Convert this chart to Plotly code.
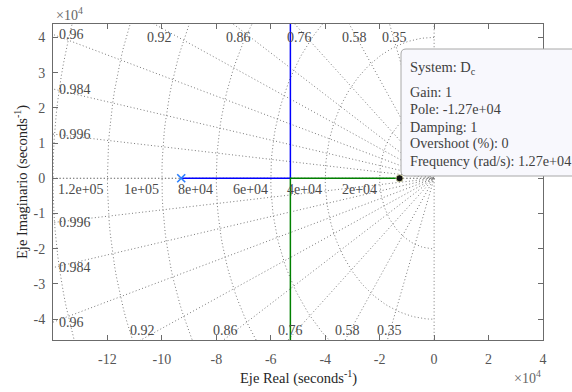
import numpy as np
import plotly.graph_objects as go

# ---------------- data ----------------
blue_re = [-9.29e4, -5.28e4, -5.28e4]
blue_im = [0.0, 0.0, 6.0e4]
green_re = [-1.27e4, -5.28e4, -5.28e4]
green_im = [0.0, 0.0, -6.0e4]
blue_pole_re = [-9.29e4]
blue_pole_im = [0.0]
tip_re = -1.27e4
tip_im = 0.0

zeta_vals = [0.35, 0.58, 0.76, 0.86, 0.92, 0.96, 0.984, 0.996]
zeta_labels = ["0.35", "0.58", "0.76", "0.86", "0.92", "0.96", "0.984", "0.996"]
wn_vals = [2e4, 4e4, 6e4, 8e4, 1e5, 1.2e5, 1.4e5]
wn_labels = ["2e+04", "4e+04", "6e+04", "8e+04", "1e+05", "1.2e+05"]

x_tickvals = [-12e4, -10e4, -8e4, -6e4, -4e4, -2e4, 0, 2e4, 4e4]
x_ticktext = ["-12", "-10", "-8", "-6", "-4", "-2", "0", "2", "4"]
y_tickvals = [-4e4, -3e4, -2e4, -1e4, 0, 1e4, 2e4, 3e4, 4e4]
y_ticktext = ["-4", "-3", "-2", "-1", "0", "1", "2", "3", "4"]

tip_title = "System: D<sub>c</sub>"
tip_lines = ["Gain: 1", "Pole: -1.27e+04", "Damping: 1",
             "Overshoot (%): 0", "Frequency (rad/s): 1.27e+04"]

x_range = [-14e4, 4e4]
y_range = [-4.59e4, 4.38e4]

# ---------------- layout geometry ----------------
W, H = 572, 392
L, R, T, B = 53, 29, 24, 52
PW, PH = W - L - R, H - T - B
FONT = "Liberation Serif, Times New Roman, Times, DejaVu Serif, serif"
GRID = "#7a7a7a"
TXT = "#555555"
DOT = "1px,2.4px"


def px(xp):
    return (xp - L) / PW


def py(yp):
    return (H - B - yp) / PH


fig = go.Figure()

# sgrid: damping lines (including zeta = 0 and 1)
big = 3e5
for z in [0.0, 1.0] + zeta_vals:
    s = np.sqrt(1 - z * z)
    fig.add_trace(go.Scatter(x=[-z * big, 0, -z * big], y=[s * big, 0, -s * big],
                             mode="lines", line=dict(color=GRID, width=1, dash=DOT),
                             hoverinfo="skip", showlegend=False))
# sgrid: natural frequency semicircles
th = np.linspace(np.pi / 2, 3 * np.pi / 2, 121)
for wn in wn_vals:
    fig.add_trace(go.Scatter(x=wn * np.cos(th), y=wn * np.sin(th), mode="lines",
                             line=dict(color=GRID, width=1, dash=DOT),
                             hoverinfo="skip", showlegend=False))

# root locus branches
fig.add_trace(go.Scatter(x=blue_re, y=blue_im, mode="lines",
                         line=dict(color="#0000ff", width=1.5), showlegend=False))
fig.add_trace(go.Scatter(x=green_re, y=green_im, mode="lines",
                         line=dict(color="#008000", width=1.5), showlegend=False))
fig.add_trace(go.Scatter(x=blue_pole_re, y=blue_pole_im, mode="markers",
                         marker=dict(symbol="x-thin", size=8, line=dict(color="#2a7fff", width=1.6)),
                         showlegend=False))

ann = []
# damping labels
xmin, xmax = x_range
ymin, ymax = y_range
for z, lab in zip(zeta_vals, zeta_labels):
    t = np.sqrt(1 - z * z) / z
    yl = -xmin * t
    if yl <= ymax:
        ann.append(dict(x=xmin, y=yl, text=lab, xanchor="left", yanchor="middle", xshift=4))
    else:
        ann.append(dict(x=-ymax / t, y=ymax, text=lab, xanchor="center", yanchor="middle",
                        xshift=5, yshift=-13))
    if yl <= -ymin:
        ann.append(dict(x=xmin, y=-yl, text=lab, xanchor="left", yanchor="middle", xshift=4))
    else:
        ann.append(dict(x=ymin / t, y=ymin, text=lab, xanchor="center", yanchor="middle",
                        xshift=2, yshift=10))
# frequency labels
for wn, lab in zip(wn_vals, wn_labels):
    ann.append(dict(x=-wn, y=0, text=lab, xanchor="right", yanchor="middle", xshift=-1, yshift=-11))
for a in ann:
    a.update(xref="x", yref="y", showarrow=False, font=dict(family=FONT, size=14, color="#4a4a4a"))

# exponents and axis titles
ann += [
    dict(x=px(54), y=py(14), xref="paper", yref="paper", text="\u00d710<sup>4</sup>",
         xanchor="left", yanchor="middle", showarrow=False, font=dict(family=FONT, size=14, color="#666")),
    dict(x=1, y=py(377), xref="paper", yref="paper", text="\u00d710<sup>4</sup>",
         xanchor="right", yanchor="middle", showarrow=False, font=dict(family=FONT, size=14, color="#666")),
    dict(x=0.5, y=py(377), xref="paper", yref="paper", text="Eje Real (seconds<sup>-1</sup>)",
         xanchor="center", yanchor="middle", showarrow=False, font=dict(family=FONT, size=14.5, color="#262626")),
    dict(x=px(21), y=0.5, xref="paper", yref="paper", text="Eje Imaginario (seconds<sup>-1</sup>)",
         textangle=-90, xanchor="center", yanchor="middle", showarrow=False,
         font=dict(family=FONT, size=14.5, color="#262626")),
]

# data tip box
bx0, by0, bx1, by1, r = px(401), py(176), px(590), py(49), 5
rx, ry = r / PW, r / PH
path = (f"M {bx0+rx},{by0} L {bx1},{by0} L {bx1},{by1} L {bx0+rx},{by1} "
        f"Q {bx0},{by1} {bx0},{by1-ry} L {bx0},{by0+ry} Q {bx0},{by0} {bx0+rx},{by0} Z")
shapes = [
    dict(type="path", path=path, xref="paper", yref="paper", layer="above",
         fillcolor="#f8f8fd", line=dict(color="#a8a8a8", width=1)),
    dict(type="circle", xref="x", yref="y", xsizemode="pixel", ysizemode="pixel",
         xanchor=tip_re, yanchor=tip_im, x0=-3.5, x1=3.5, y0=-3.5, y1=3.5, layer="above",
         fillcolor="#111111", line=dict(color="#d8d8a0", width=0.8)),
]
ann.append(dict(x=px(408), y=py(68), xref="paper", yref="paper", text=tip_title,
                xanchor="left", yanchor="middle", showarrow=False,
                font=dict(family=FONT, size=14.5, color="#404040")))
for i, line in enumerate(tip_lines):
    ann.append(dict(x=px(408), y=py(92 + 17.3 * i), xref="paper", yref="paper", text=line,
                    xanchor="left", yanchor="middle", showarrow=False,
                    font=dict(family=FONT, size=14.2, color="#404040")))

axis_common = dict(showline=True, linecolor="#6b6b6b", linewidth=1, mirror="ticks",
                   ticks="inside", ticklen=5, tickcolor="#6b6b6b", showgrid=False,
                   zeroline=False, tickfont=dict(family=FONT, size=14, color=TXT))
fig.update_layout(
    width=W, height=H, margin=dict(l=L, r=R, t=T, b=B),
    plot_bgcolor="white", paper_bgcolor="white", showlegend=False,
    font=dict(family=FONT),
    xaxis=dict(range=x_range, tickvals=x_tickvals, ticktext=x_ticktext,
               ticklabelstandoff=6, **axis_common),
    yaxis=dict(range=y_range, tickvals=y_tickvals, ticktext=y_ticktext,
               ticklabelstandoff=4, **axis_common),
    annotations=ann, shapes=shapes,
)
fig.write_html("out.html", config={"displayModeBar": False},
               post_script="document.body.style.margin='0px';")
